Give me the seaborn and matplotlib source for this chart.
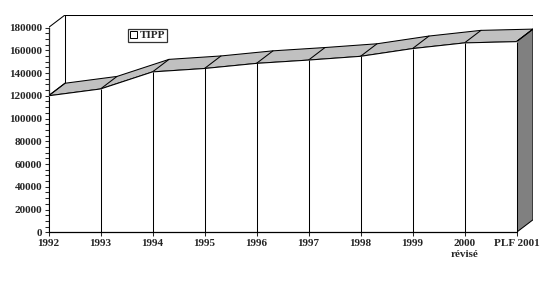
import matplotlib
matplotlib.use("Agg")
import matplotlib.pyplot as plt
from matplotlib.patches import Polygon, Patch
import seaborn as sns
import pandas as pd
import numpy as np

categories = ["1992", "1993", "1994", "1995", "1996", "1997", "1998", "1999", "2000\nrévisé", "PLF 2001"]
tipp = [120000, 126000, 141000, 144000, 148500, 151400, 154700, 161500, 166500, 167600]
yticks = [0, 20000, 40000, 60000, 80000, 100000, 120000, 140000, 160000, 180000]
series_name = "TIPP"

sns.set_style("white")
plt.rcParams["font.family"] = ["Liberation Serif", "DejaVu Serif"]
plt.rcParams["font.weight"] = "bold"

W, H = 551, 281
fig = plt.figure(figsize=(W / 100, H / 100), dpi=100)
# axes: pixel x 48..533, y 232 (0) .. 15 (top of back wall)
ax = fig.add_axes([48.5 / W, (H - 232.3) / H, (533 - 48.5) / W, (232.3 - 15) / H])

n = len(categories)
xs = np.arange(n)
ymax = 180000
px_per_cat = (517 - 48.5) / (n - 1)
px_per_val = 204 / 180000
dx = 16.5 / px_per_cat
dy = 12.5 / px_per_val
LW = 0.75

ax.set_xlim(0, n - 1 + dx)
ax.set_ylim(0, ymax + dy)

df = pd.DataFrame({"cat": xs, "val": tipp})
vals = np.array(tipp, dtype=float)

# back wall edges
ax.plot([0, dx], [ymax, ymax + dy], color="black", lw=LW, zorder=1)
ax.plot([dx, n - 1 + dx, n - 1 + dx], [ymax + dy, ymax + dy, vals[-1] + dy], color="black", lw=LW, zorder=1)
ax.plot([dx, dx], [ymax + dy, vals[0] + dy], color="black", lw=LW, zorder=1)

# top surface
top_pts = list(zip(xs, vals)) + list(zip(xs[::-1] + dx, vals[::-1] + dy))
ax.add_patch(Polygon(top_pts, closed=True, facecolor="#c0c0c0", edgecolor="black", lw=LW, zorder=2))
for x, v in zip(xs, vals):
    ax.plot([x, x + dx], [v, v + dy], color="black", lw=LW, zorder=3)

# right side face
side = [(n - 1, 0), (n - 1 + dx, dy), (n - 1 + dx, vals[-1] + dy), (n - 1, vals[-1])]
ax.add_patch(Polygon(side, closed=True, facecolor="#808080", edgecolor="black", lw=LW, zorder=2))

# front face
ax.fill_between(xs, 0, vals, color="white", zorder=4)
sns.lineplot(data=df, x="cat", y="val", ax=ax, color="black", lw=LW, zorder=5, legend=False)
ax.vlines(xs, 0, vals, color="black", lw=LW, zorder=5)
ax.plot([0, n - 1], [0, 0], color="black", lw=0.9, zorder=6, clip_on=False)

for s in ax.spines.values():
    s.set_visible(False)
ax.spines["left"].set_visible(True)
ax.spines["left"].set_bounds(0, ymax)
ax.spines["left"].set_linewidth(0.9)

FS = 8
ax.set_yticks(yticks)
ax.set_yticks(np.arange(0, ymax + 1, 5000), minor=True)
ax.set_yticklabels([str(t) for t in yticks], fontsize=FS, fontweight="bold")
ax.tick_params(axis="y", which="both", direction="out", length=3, width=0.75, pad=1.5, left=True)
ax.set_xticks(xs)
ax.set_xticklabels(categories, fontsize=FS, fontweight="bold", linespacing=1.2)
ax.tick_params(axis="x", direction="out", length=3, width=0.75, pad=2, bottom=True)
ax.set_xlabel("")
ax.set_ylabel("")

handle = Patch(facecolor="white", edgecolor="black", lw=0.7)
leg = ax.legend([handle], [series_name], loc="center", bbox_to_anchor=(0.205, 0.905),
                frameon=True, fancybox=False, fontsize=FS, handlelength=0.6, handleheight=0.6,
                handletextpad=0.3, borderpad=0.15, borderaxespad=0)
leg.get_frame().set_edgecolor("black")
leg.get_frame().set_linewidth(0.9)
leg.set_zorder(10)
for t in leg.get_texts():
    t.set_fontweight("bold")

fig.savefig("out.png", dpi=100)
